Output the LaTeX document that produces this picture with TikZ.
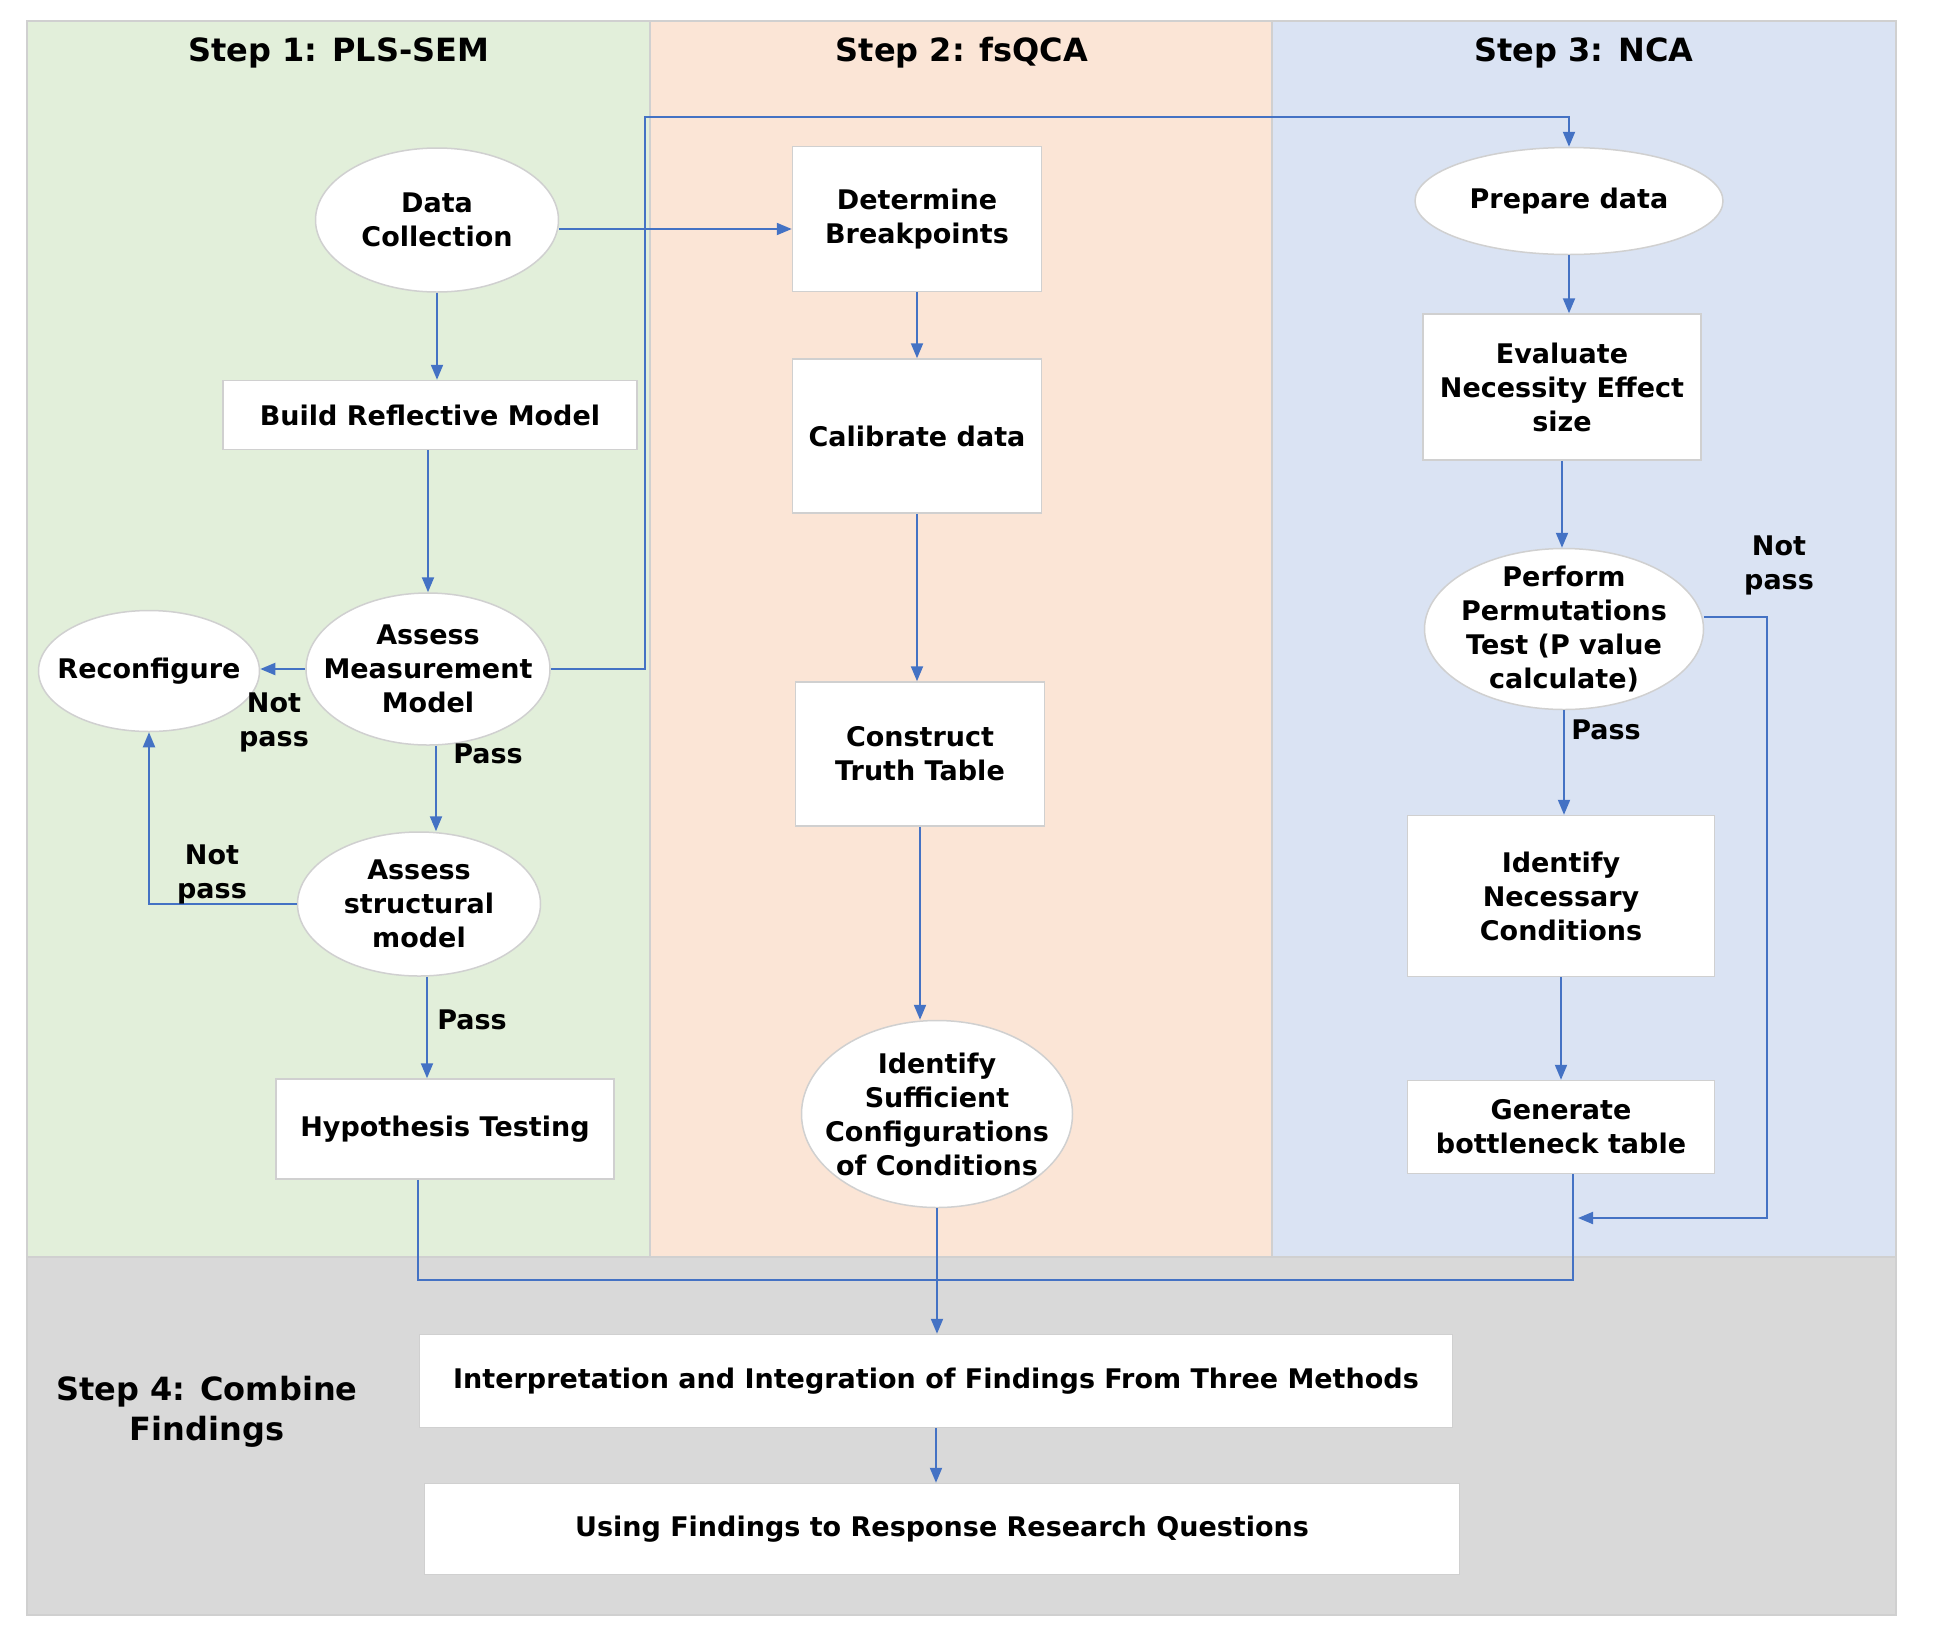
\documentclass[tikz,border=0pt]{standalone}
\usepackage{fontspec}
\setmainfont{DejaVu Sans}
\usetikzlibrary{shapes.geometric,arrows.meta}
\definecolor{pgreen}{HTML}{E2EFDA}
\definecolor{porange}{HTML}{FBE5D6}
\definecolor{pblue}{HTML}{DAE3F3}
\definecolor{pgray}{HTML}{D9D9D9}
\definecolor{lnblue}{HTML}{4472C4}
\definecolor{edgegray}{HTML}{D0D0D0}
\begin{document}
\begin{tikzpicture}[x=1pt,y=-1pt,
  txt/.style={font=\fontsize{27}{34}\selectfont\bfseries, align=center, text=black, inner sep=0pt},
  ttl/.style={font=\fontsize{32}{40}\selectfont\bfseries, align=center, text=black, inner sep=0pt},
  box/.style={txt, draw=edgegray, line width=1.5pt, fill=white, rectangle},
  ell/.style={draw=edgegray, line width=1.5pt, fill=white, ellipse, inner sep=0pt},
  panel/.style={draw=edgegray, line width=1.5pt},
  arr/.style={draw=lnblue, line width=2pt, -{Triangle[length=15pt,width=12pt]}},
  ln/.style={draw=lnblue, line width=2pt},
]
\useasboundingbox (0,0) rectangle (1933,1647);
\fill[white] (0,0) rectangle (1933,1647);
% panels
\filldraw[panel, fill=pgreen] (27,21) rectangle (650,1257);
\filldraw[panel, fill=porange] (650,21) rectangle (1272,1257);
\filldraw[panel, fill=pblue] (1272,21) rectangle (1896,1257);
\filldraw[panel, fill=pgray] (27,1257) rectangle (1896,1615);
% titles
\node[ttl] (t1) at (339,53) {Step 1: PLS-SEM};
\node[ttl] (t2) at (962,53) {Step 2: fsQCA};
\node[ttl] (t3) at (1584,53) {Step 3: NCA};
\node[ttl] (t4) at (207,1412) {Step 4: Combine\\Findings};
% step 1
\node[ell, minimum width=243pt, minimum height=144pt, label={[txt]center:Data\\Collection}] (dc) at (437,220) {};
\node[box, minimum width=414pt, minimum height=69pt] (brm) at (430,415) {Build Reflective Model};
\node[ell, minimum width=244pt, minimum height=152pt, label={[txt]center:Assess\\Measurement\\Model}] (amm) at (428,669) {};
\node[ell, minimum width=221pt, minimum height=121pt, label={[txt]center:Reconfigure}] (rec) at (149,671) {};
\node[ell, minimum width=243pt, minimum height=144pt, label={[txt]center:Assess\\structural\\model}] (asm) at (419,904) {};
\node[box, minimum width=338pt, minimum height=100pt] (hyp) at (445,1129) {Hypothesis Testing};
% step 2
\node[box, minimum width=249pt, minimum height=145pt] (db) at (917,219) {Determine\\Breakpoints};
\node[box, minimum width=249pt, minimum height=154pt] (cal) at (917,436) {Calibrate data};
\node[box, minimum width=249pt, minimum height=144pt] (ctt) at (920,754) {Construct\\Truth Table};
\node[ell, minimum width=271pt, minimum height=187pt, label={[txt]center:Identify\\Sufficient\\Configurations\\of Conditions}] (isc) at (937,1114) {};
% step 3
\node[ell, minimum width=308pt, minimum height=107pt, label={[txt]center:Prepare data}] (pd) at (1569,201) {};
\node[box, minimum width=278pt, minimum height=146pt] (ene) at (1562,387) {Evaluate\\Necessity Effect\\size};
\node[ell, minimum width=279pt, minimum height=161pt, label={[txt]center:Perform\\Permutations\\Test (P value\\calculate)}] (ppt) at (1564,629) {};
\node[box, minimum width=307pt, minimum height=161pt] (inc) at (1561,896) {Identify\\Necessary\\Conditions};
\node[box, minimum width=307pt, minimum height=93pt] (gbt) at (1561,1127) {Generate\\bottleneck table};
% step 4
\node[box, minimum width=1033pt, minimum height=93pt] (iif) at (936,1381) {Interpretation and Integration of Findings From Three Methods};
\node[box, minimum width=1035pt, minimum height=91pt] (ufr) at (942,1529) {Using Findings to Response Research Questions};
% connectors step 1
\coordinate (dcr) at ([yshift=-9pt]dc.east);
\draw[arr] (dcr) -- (dcr -| db.west);
\draw[arr] (dc.south) -- (dc.south |- brm.north);
\draw[arr] (amm.north |- brm.south) -- (amm.north);
\draw[arr] (amm.west) -- (amm.west -| rec.east);
\node[txt] (np1) at (274,722) {Not\\pass};
\coordinate (b1) at (645,117);
\draw[arr] (amm.east) -| (b1) -| (pd.north);
\coordinate (ams) at ([xshift=8pt]amm.south);
\draw[arr] (ams) -- (ams |- asm.north);
\node[txt] (p1) at (488,754) {Pass};
\draw[arr] (asm.west) -| (rec.south);
\node[txt] (np2) at (212,874) {Not\\pass};
\coordinate (ass) at ([xshift=8pt]asm.south);
\draw[arr] (ass) -- (ass |- hyp.north);
\node[txt] (p2) at (472,1020) {Pass};
% connectors step 2
\draw[arr] (db.south) -- (db.south |- cal.north);
\draw[arr] (cal.south) -- (cal.south |- ctt.north);
\draw[arr] (ctt.south) -- (ctt.south |- isc.north);
% connectors step 3
\draw[arr] (pd.south) -- (pd.south |- ene.north);
\draw[arr] (ene.south) -- (ene.south |- ppt.north);
\draw[arr] (ppt.south) -- (ppt.south |- inc.north);
\node[txt] (p3) at (1606,730) {Pass};
\draw[arr] (inc.south) -- (inc.south |- gbt.north);
\node[txt] (np3) at (1779,565) {Not\\pass};
% merge to step 4
\coordinate (gb) at ([xshift=12pt]gbt.south);
\coordinate (hb) at ([xshift=-27pt]hyp.south);
\coordinate (by) at (0,1280);
\draw[ln] (hb) -- (hb |- by) -| (gb);
\coordinate (pe) at ([yshift=12pt]ppt.east);
\coordinate (nr) at (1767,1218);
\path (gb |- nr) coordinate (nre0);
\coordinate (nre) at ([xshift=5pt]nre0);
\draw[arr] (pe) -| (nr) -- (nre);
\draw[arr] (isc.south) -- (isc.south |- iif.north);
\draw[arr] (iif.south) -- (iif.south |- ufr.north);
\end{tikzpicture}
\end{document}
